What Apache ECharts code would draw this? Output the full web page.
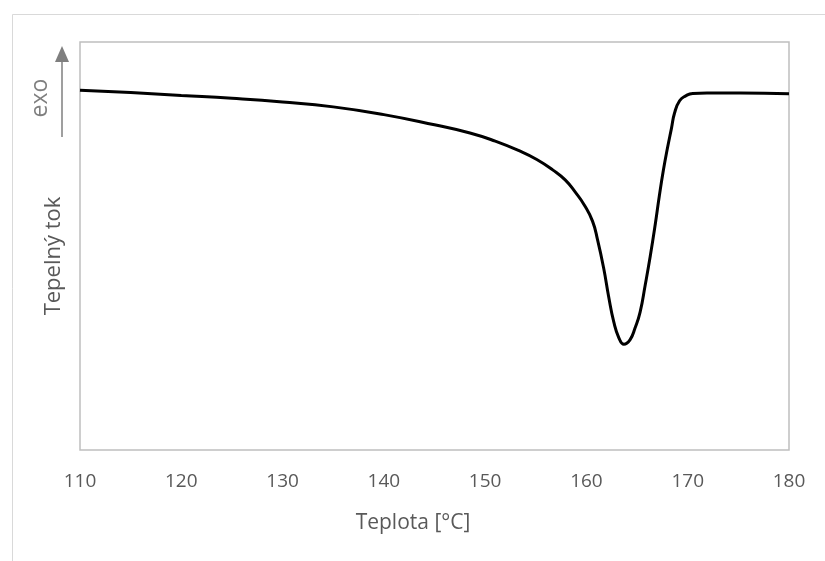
<!DOCTYPE html>
<html>
<head>
<meta charset="utf-8">
<script src="https://cdn.jsdelivr.net/npm/echarts@6/dist/echarts.min.js"></script>
<style>
  html, body { margin: 0; padding: 0; background: #fff; }
  #chart { width: 825px; height: 561px; }
</style>
</head>
<body>
<div id="chart"></div>
<script>
// teplota [°C] a tepelný tok (libovolné jednotky)
const teplota = [110, 115, 120, 125, 130, 135, 140, 145, 148.5, 151, 153.4, 155.1, 156.7, 157.9, 158.9,
  159.8, 160.6, 161.1, 161.7, 162.2, 162.7, 163.2, 163.7, 164.3, 164.8, 165.3, 165.8, 166.3, 166.8,
  167.2, 167.6, 168.0, 168.4, 168.7, 169.2, 169.8, 170.5, 171.9, 175.2, 180];
const tok = [8.82, 8.76, 8.69, 8.62, 8.53, 8.41, 8.22, 7.97, 7.77, 7.57, 7.33, 7.12, 6.86, 6.62, 6.32,
  6.00, 5.61, 5.15, 4.46, 3.75, 3.14, 2.75, 2.59, 2.70, 2.99, 3.38, 4.04, 4.75, 5.54,
  6.23, 6.86, 7.40, 7.89, 8.26, 8.56, 8.68, 8.74, 8.75, 8.75, 8.73];
const xTicks = [110, 120, 130, 140, 150, 160, 170, 180];

const textColor = "#595959";
const font = "Open Sans";

var chart = echarts.init(document.getElementById("chart"));
var option = {
  backgroundColor: "#fff",
  animation: false,
  grid: {
    left: 80,
    right: 36,
    top: 42,
    bottom: 111,
    show: true,
    borderColor: "#bfbfbf",
    borderWidth: 1.5
  },
  xAxis: {
    type: "value",
    min: xTicks[0],
    max: xTicks[xTicks.length - 1],
    interval: 10,
    axisLine: { show: false },
    axisTick: { show: false },
    splitLine: { show: false },
    axisLabel: {
      color: textColor,
      fontFamily: font,
      fontSize: 19,
      margin: 22
    }
  },
  yAxis: {
    type: "value",
    min: 0,
    max: 10,
    axisLine: { show: false },
    axisTick: { show: false },
    splitLine: { show: false },
    axisLabel: { show: false }
  },
  graphic: [
    {
      // vnější rámeček grafu
      type: "rect",
      left: 10, top: 12,
      shape: { width: 900, height: 700 },
      style: { fill: "none", stroke: "#d9d9d9", lineWidth: 1 },
      silent: true
    },
    {
      type: "text",
      x: 413, y: 523,
      style: { text: "Teplota [°C]", fill: textColor, font: "21px 'Open Sans'", align: "center", verticalAlign: "middle" }
    },
    {
      type: "text",
      x: 54, y: 256,
      rotation: Math.PI / 2,
      style: { text: "Tepelný tok", fill: textColor, font: "22px 'Open Sans'", align: "center", verticalAlign: "middle" }
    },
    {
      type: "text",
      x: 40, y: 98,
      rotation: Math.PI / 2,
      style: { text: "exo", fill: "#7f7f7f", font: "23px 'Open Sans'", align: "center", verticalAlign: "middle" }
    },
    {
      type: "line",
      shape: { x1: 62, y1: 60, x2: 62, y2: 137 },
      style: { stroke: "#7f7f7f", lineWidth: 1.5 }
    },
    {
      type: "polygon",
      shape: { points: [[62, 46], [55, 62], [69, 62]] },
      style: { fill: "#7f7f7f" }
    }
  ],
  series: [
    {
      type: "line",
      data: teplota.map((t, i) => [t, tok[i]]),
      smooth: 0.5,
      showSymbol: false,
      lineStyle: { color: "#000", width: 3 }
    }
  ]
};
option && chart.setOption(option);
</script>
</body>
</html>
